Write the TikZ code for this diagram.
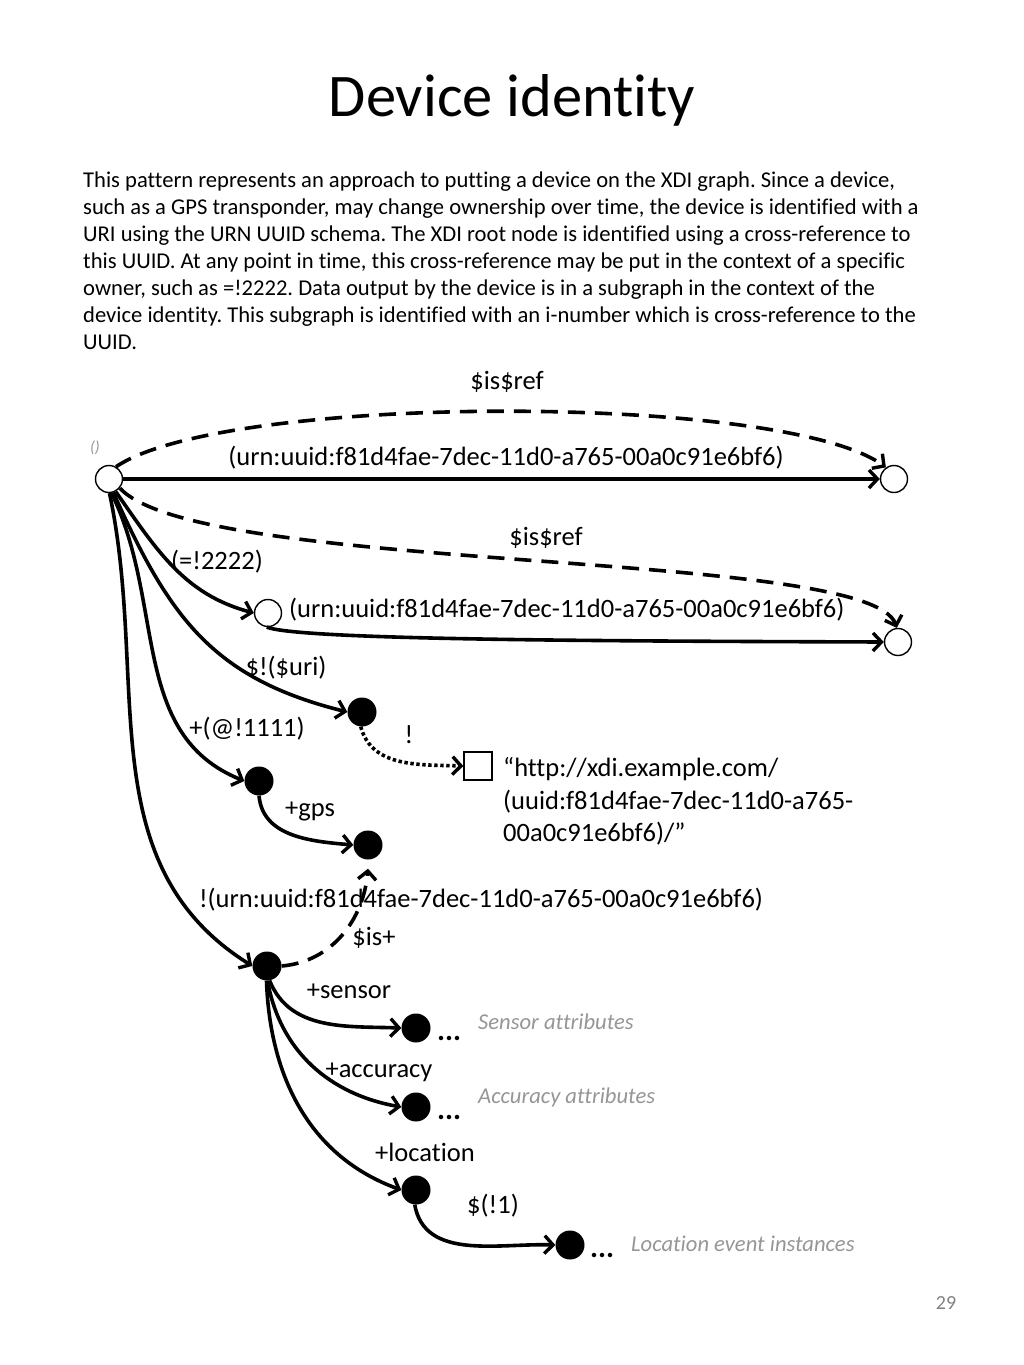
\documentclass[tikz,border=0pt]{standalone}
\usepackage{fontspec}
\setmainfont{Carlito}[Ligatures=CommonOff]
\frenchspacing
\usetikzlibrary{arrows.meta}
\definecolor{labgray}{RGB}{150,150,150}
\definecolor{pggray}{RGB}{130,130,130}
\tikzset{
  opn/.style={circle,draw,line width=1.4pt,minimum size=27pt,inner sep=0pt,fill=white},
  dot/.style={circle,fill=black,minimum size=29pt,inner sep=0pt},
  sq/.style={rectangle,draw,line width=1.4pt,minimum size=28pt,inner sep=0pt,fill=white},
  edge/.style={line width=3.6pt,-{Straight Barb[length=8.5pt,width=18pt,line width=3.4pt]}},
  dsh/.style={dash pattern=on 17pt off 10pt},
  dtt/.style={dash pattern=on 3.4pt off 2.6pt},
  lbl/.style={font=\fontsize{26.5}{31}\selectfont,inner sep=0pt,anchor=base},
  par/.style={font=\fontsize{22.6}{27}\selectfont,inner sep=0pt,anchor=base west},
  note/.style={font=\fontsize{22.6}{26}\selectfont\itshape,text=labgray,inner sep=0pt,anchor=base west},
  dots/.style={font=\fontsize{30}{32}\selectfont\bfseries,inner sep=0pt,anchor=base west}
}
\begin{document}
\begin{tikzpicture}[x=1pt,y=1pt]
\useasboundingbox[fill=white] (0,0) rectangle (1024,-1365);
% title
\node[font=\fontsize{60.5}{66}\selectfont,inner sep=0pt,anchor=base] (title) at (512,-116) {Device identity};
% paragraph
\node[par] (p1) at (83,-187) {This pattern represents an approach to putting a device on the XDI graph. Since a device,};
\node[par] (p2) at (83,-214) {such as a GPS transponder, may change ownership over time, the device is identified with a};
\node[par] (p3) at (83,-241) {URI using the URN UUID schema. The XDI root node is identified using a cross-reference to};
\node[par] (p4) at (83,-268) {this UUID. At any point in time, this cross-reference may be put in the context of a specific};
\node[par] (p5) at (83,-295) {owner, such as =!2222. Data output by the device is in a subgraph in the context of the};
\node[par] (p6) at (83,-322) {device identity. This subgraph is identified with an i-number which is cross-reference to the};
\node[par] (p7) at (83,-349) {UUID.};
% graph nodes
\node[opn] (root) at (109,-479) {};
\node[opn] (tr) at (894,-479) {};
\node[opn] (c2) at (268,-613) {};
\node[opn] (c4) at (898,-642) {};
\node[dot] (uri) at (362,-712) {};
\node[sq] (lit) at (478,-766) {};
\node[dot] (n1111) at (259,-781) {};
\node[dot] (gps) at (368,-845) {};
\node[dot] (dev) at (267,-966) {};
\node[dot] (sen) at (416,-1028) {};
\node[dot] (acc) at (416,-1107) {};
\node[dot] (loc) at (416,-1190) {};
\node[dot] (inst) at (570,-1245) {};
% edges
\draw[edge] (root) -- (tr);
\draw[edge,dsh] (root.60) .. controls (225,-393) and (784,-393) .. (tr.125);
\draw[edge,dsh] (root.-40) .. controls (200,-575) and (870,-548) .. (c4.95);
\draw[edge] (c2.-95) .. controls (300,-640) and (600,-641) .. (c4.west);
\draw[edge] (root.-62) to[out=-55,in=165] (c2.west);
\draw[edge] (root.-72) to[out=-66,in=166,looseness=1.1] (uri.west);
\draw[edge] (root.-80) to[out=-64,in=158] (n1111.west);
\draw[edge] (root.-88) to[out=-78,in=148] (dev.west);
\draw[edge] (n1111.south) to[out=-85,in=175] (gps.west);
\draw[edge,dsh] (dev.east) to[out=5,in=-95] ([yshift=-9pt]gps.south);
\draw[edge,dtt] (uri.-95) to[out=-75,in=178] (lit.west);
\draw[edge] (dev.-80) to[out=-68,in=178] (sen.west);
\draw[edge] (dev.-88) to[out=-80,in=170] (acc.west);
\draw[edge] (dev.-92) to[out=-88,in=160] (loc.west);
\draw[edge] (loc.-95) to[out=-80,in=178] (inst.west);
% labels
\node[lbl] (l1) at (507,-389) {\$is\$ref};
\node[font=\fontsize{16}{18}\selectfont\itshape,text=labgray,inner sep=0pt,anchor=base] (l0) at (95,-452) {()};
\node[lbl] (l2) at (506,-465) {(urn:uuid:f81d4fae-7dec-11d0-a765-00a0c91e6bf6)};
\node[lbl] (l3) at (546,-545) {\$is\$ref};
\node[lbl] (l4) at (217,-569) {(=!2222)};
\node[lbl,anchor=base west] (l5) at (289,-617) {(urn:uuid:f81d4fae-7dec-11d0-a765-00a0c91e6bf6)};
\node[lbl] (l6) at (286,-675) {\$!(\$uri)};
\node[lbl] (l7) at (247,-736) {+(@!1111)};
\node[lbl] (l8) at (409,-743) {!};
\node[lbl,anchor=base west] (q1) at (503,-776) {“http://xdi.example.com/};
\node[lbl,anchor=base west] (q2) at (503,-809) {(uuid:f81d4fae-7dec-11d0-a765-};
\node[lbl,anchor=base west] (q3) at (503,-841) {00a0c91e6bf6)/”};
\node[lbl] (l9) at (310,-816) {+gps};
\node[lbl] (l10) at (481,-907) {!(urn:uuid:f81d4fae-7dec-11d0-a765-00a0c91e6bf6)};
\node[lbl] (l11) at (374,-945) {\$is+};
\node[lbl] (l12) at (349,-998) {+sensor};
\node[lbl] (l13) at (379,-1077) {+accuracy};
\node[lbl] (l14) at (425,-1161) {+location};
\node[lbl] (l15) at (493,-1213) {\$(!1)};
\node[dots] (d1) at (437,-1040) {...};
\node[dots] (d2) at (437,-1119) {...};
\node[dots] (d3) at (590,-1257) {...};
\node[note] (n1) at (478,-1029) {Sensor attributes};
\node[note] (n2) at (478,-1103) {Accuracy attributes};
\node[note] (n3) at (631,-1251) {Location event instances};
\node[font=\fontsize{20}{22}\selectfont,text=pggray,inner sep=0pt,anchor=base] (pg) at (946,-1309) {29};
\end{tikzpicture}
\end{document}
